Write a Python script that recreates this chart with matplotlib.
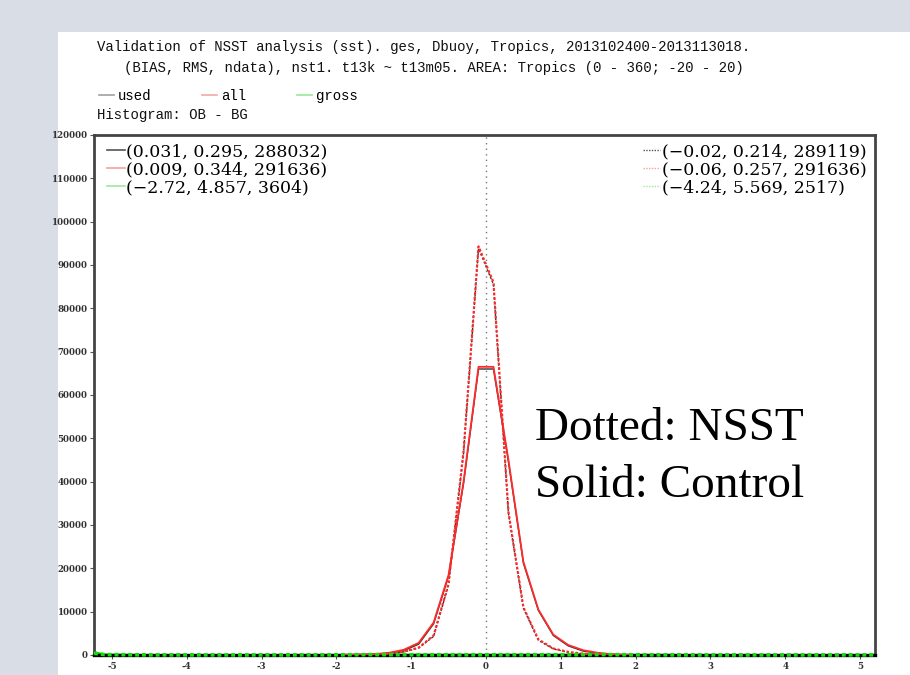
import numpy as np
import matplotlib
matplotlib.use("Agg")
import matplotlib.pyplot as plt
from matplotlib.lines import Line2D
from matplotlib.patches import Rectangle

# ========= data =========
bins = [-1.9, -1.7, -1.5, -1.3, -1.1, -0.9, -0.7, -0.5, -0.3, -0.1,
        0.1, 0.3, 0.5, 0.7, 0.9, 1.1, 1.3, 1.5, 1.7, 1.9]
ctl_all = [0, 80, 200, 500, 1200, 2800, 7500, 18500, 40000, 66500,
           66500, 45000, 21500, 10500, 4700, 2300, 1100, 500, 150, 0]
ctl_used = [0, 60, 150, 400, 1000, 2500, 7200, 18200, 39600, 66000,
            66000, 44600, 21200, 10300, 4500, 2100, 900, 400, 100, 0]
nsst_all = [0, 40, 100, 300, 800, 1700, 4500, 16500, 47000, 94300,
            86000, 33000, 11000, 3600, 1500, 700, 300, 100, 30, 0]
nsst_used = [0, 30, 80, 250, 700, 1600, 4300, 16200, 46600, 93800,
             85500, 32700, 10800, 3400, 1400, 600, 250, 80, 20, 0]

gross_x = [-5.24, -5.1, -4.5, -3.0, -2.0, -1.5, -1.0, 1.0, 1.5, 2.0, 3.0, 4.5, 5.2]
gross_ctl = [700, 150, 40, 30, 60, 120, 80, 80, 140, 70, 30, 30, 40]
gross_nsst = [400, 100, 30, 20, 40, 90, 60, 60, 100, 50, 20, 20, 30]

edge_x = [-5.24, 5.2]

stats_ctl = ["(0.031, 0.295, 288032)", "(0.009, 0.344, 291636)", "(\u22122.72, 4.857, 3604)"]
stats_nsst = ["(\u22120.02, 0.214, 289119)", "(\u22120.06, 0.257, 291636)", "(\u22124.24, 5.569, 2517)"]

title1 = "Validation of NSST analysis (sst). ges, Dbuoy, Tropics, 2013102400-2013113018."
title2 = "(BIAS, RMS, ndata), nst1. t13k ~ t13m05. AREA: Tropics (0 - 360; -20 - 20)"

yticks = list(range(0, 120001, 10000))
xticks = [-5, -4, -3, -2, -1, 0, 1, 2, 3, 4, 5]

# ========= colours =========
C_USED = "#333333"
C_ALL = "#ff2a2a"
C_GROSS = "#00cc00"
MONO = "Liberation Mono"
TSIZE = 10.05

fig = plt.figure(figsize=(9.1, 6.75), dpi=100)
fig.patch.set_facecolor("#d9dde6")
fig.patches.append(Rectangle((58 / 910, 0), 1, 1 - 32 / 675, transform=fig.transFigure,
                             facecolor="white", edgecolor="none", zorder=-5))

ax = fig.add_axes([94 / 910, 20 / 675, 781 / 910, 520 / 675])
ax.set_zorder(2)

# gross solid (nearly flat on zero)
ax.plot(gross_x, gross_ctl, color=C_GROSS, lw=1.2, zorder=2, clip_on=False)
# zero line from the used curves over full range
ax.plot(edge_x, [0, 0], color="black", lw=2.4, zorder=3, clip_on=False)

# used
ax.plot(bins, ctl_used, color=C_USED, lw=1.0, zorder=3)
ax.plot(bins, nsst_used, color=C_USED, lw=1.0, ls=(0, (1.5, 1.5)), zorder=3)
# all
ax.plot(bins, ctl_all, color=C_ALL, lw=1.3, zorder=4)
ax.plot(bins, nsst_all, color=C_ALL, lw=1.6, ls=(0, (1.2, 0.9)), zorder=4)
# gross dotted
ax.plot(gross_x, gross_nsst, color="#11dd11", lw=2.6, ls=(0, (1.1, 0.8)), zorder=6,
        clip_on=False)

# x = 0 reference
ax.axvline(0, color="#777777", lw=1.0, ls=(0, (1, 3)), zorder=1)

ax.set_xlim(-5.24, 5.2)
ax.set_ylim(0, 120000)
ax.set_xticks(xticks)
ax.set_yticks(yticks)
ax.set_yticklabels([str(v) for v in yticks])
ax.set_xticklabels([str(v) for v in xticks])
for lab in ax.get_xticklabels() + ax.get_yticklabels():
    lab.set_fontfamily("DejaVu Serif")
    lab.set_fontsize(6.2)
    lab.set_fontweight("bold")
    lab.set_color("#333333")
ax.tick_params(direction="out", length=3, width=0.8, color="#555555", pad=2)
ax.tick_params(axis="y", pad=1.5)
for s in ax.spines.values():
    s.set_linewidth(2.0)
    s.set_color("#444444")

# stats legends
h_left = [Line2D([], [], color="#555555", lw=1.2),
          Line2D([], [], color="#f7a0a0", lw=1.2),
          Line2D([], [], color="#a0e8a0", lw=1.2)]
h_right = [Line2D([], [], color="#555555", lw=1.0, ls=(0, (1, 1))),
           Line2D([], [], color="#f7a0a0", lw=1.0, ls=(0, (1, 1))),
           Line2D([], [], color="#a0e8a0", lw=1.0, ls=(0, (1, 1)))]
leg1 = ax.legend(h_left, stats_ctl, loc="upper left", frameon=False,
                 prop={"family": "DejaVu Serif", "size": 12.5},
                 handlelength=1.0, handletextpad=0.1, labelspacing=0.05,
                 borderaxespad=0.0, bbox_to_anchor=(0.008, 0.997))
ax.add_artist(leg1)
ax.legend(h_right, stats_nsst, loc="upper right", frameon=False,
          prop={"family": "DejaVu Serif", "size": 12.5},
          handlelength=1.0, handletextpad=0.1, labelspacing=0.05,
          borderaxespad=0.0, bbox_to_anchor=(0.998, 0.997))

# annotation
ax.text(0.565, 0.413, "Dotted: NSST", transform=ax.transAxes,
        family="Liberation Serif", fontsize=34, color="black",
        va="baseline", ha="left")
ax.text(0.565, 0.304, "Solid: Control", transform=ax.transAxes,
        family="Liberation Serif", fontsize=34, color="black",
        va="baseline", ha="left")

# titles
fig.text(97 / 910, 1 - 47 / 675, title1, family=MONO, fontsize=TSIZE,
         va="center", ha="left", color="#111111")
fig.text(124 / 910, 1 - 68 / 675, title2, family=MONO, fontsize=TSIZE,
         va="center", ha="left", color="#111111")

h_top = [Line2D([], [], color="#a0a0a0", lw=1.2),
         Line2D([], [], color="#f4a8a8", lw=1.2),
         Line2D([], [], color="#98e898", lw=1.2)]
fig.legend(h_top, ["used", "all", "gross"], loc="center left", ncol=3, frameon=False,
           bbox_to_anchor=(93 / 910, 1 - 96 / 675),
           prop={"family": MONO, "size": TSIZE},
           handlelength=1.1, handletextpad=0.3, columnspacing=3.6, borderaxespad=0)
fig.text(97 / 910, 1 - 115 / 675, "Histogram: OB - BG", family=MONO,
         fontsize=TSIZE, va="center", ha="left", color="#111111")

fig.savefig("out.png", dpi=100, facecolor=fig.get_facecolor())
